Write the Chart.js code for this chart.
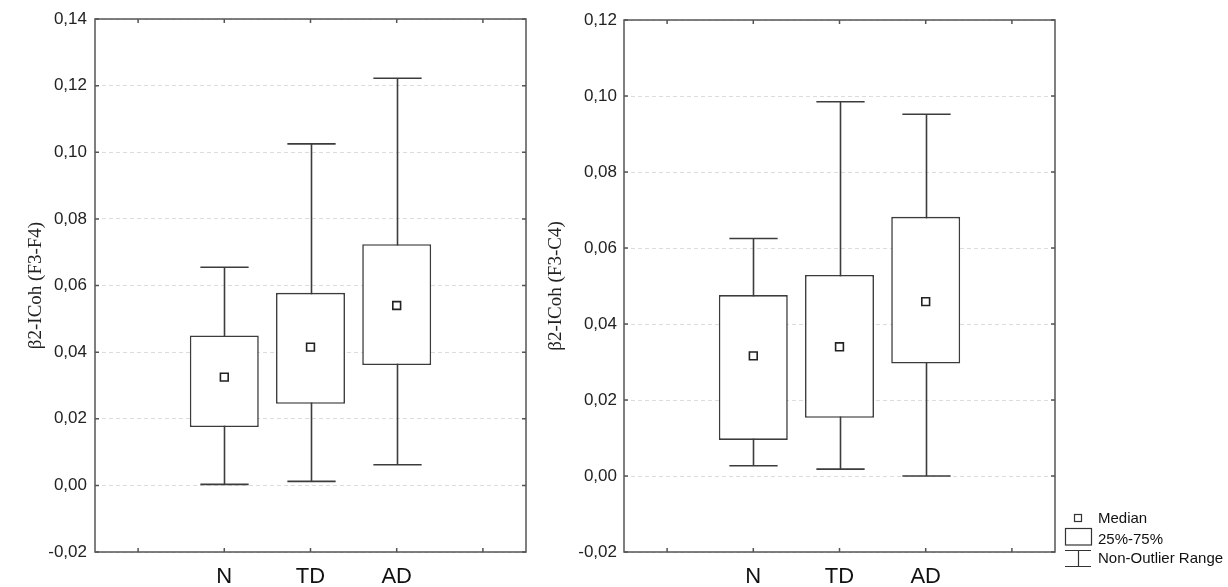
<!DOCTYPE html>
<html>
<head>
<meta charset="utf-8">
<script src="https://cdn.jsdelivr.net/npm/chart.js@4"></script>
<style>
    html, body { margin: 0; padding: 0; background: #fff; }
    #wrap { position: relative; width: 1228px; height: 587px; }
    canvas { position: absolute; top: 0; }
</style>
</head>
<body>
<div id="wrap">
    <canvas id="left" width="540" height="587" style="left:0"></canvas>
    <canvas id="right" width="688" height="587" style="left:540px"></canvas>
</div>
<script>
const groups = ['N', 'TD', 'AD'];

// F3-F4
const leftMin = [0.0003, 0.0012, 0.0062];
const leftQ1 = [0.0175, 0.0245, 0.0361];
const leftMedian = [0.0325, 0.0415, 0.0540];
const leftQ3 = [0.0450, 0.0578, 0.0724];
const leftMax = [0.0655, 0.1025, 0.1222];

// F3-C4
const rightMin = [0.0027, 0.0018, 0.0000];
const rightQ1 = [0.0095, 0.0153, 0.0296];
const rightMedian = [0.0316, 0.0340, 0.0459];
const rightQ3 = [0.0476, 0.0529, 0.0682];
const rightMax = [0.0625, 0.0985, 0.0952];

const legendItems = ['Median', '25%-75%', 'Non-Outlier Range'];

const LINE = '#3c3c3c';
const SANS = "'Liberation Sans', Arial, sans-serif";
const SERIF = "'Liberation Serif', 'Times New Roman', serif";

// пустые категории по краям, как в оригинале
const pad = arr => [null, ...arr, null];

const boxFrame = {
    id: 'boxFrame',
    beforeDatasetsDraw(chart, args, opts) {
        const {ctx, scales: {x, y}} = chart;
        const slot = x.getPixelForValue(1) - x.getPixelForValue(0);
        const hw = slot * 0.28;
        ctx.save();
        ctx.strokeStyle = LINE;
        ctx.lineWidth = 1.6;
        opts.min.forEach((lo, i) => {
            if (lo == null) return;
            const px = Math.round(x.getPixelForValue(i)) + 0.5;
            const yLo = y.getPixelForValue(lo);
            const yHi = y.getPixelForValue(opts.max[i]);
            ctx.beginPath();
            ctx.moveTo(px, yLo); ctx.lineTo(px, yHi);
            ctx.moveTo(px - hw, yLo); ctx.lineTo(px + hw, yLo);
            ctx.moveTo(px - hw, yHi); ctx.lineTo(px + hw, yHi);
            ctx.stroke();
        });
        ctx.restore();
    },
    afterDatasetsDraw(chart) {
        const {ctx, chartArea: a, scales: {x, y}} = chart;
        ctx.save();
        ctx.strokeStyle = '#555';
        ctx.lineWidth = 1.5;
        ctx.strokeRect(a.left, a.top, a.right - a.left, a.bottom - a.top);
        ctx.beginPath();
        y.ticks.forEach((t, i) => {
            const py = y.getPixelForTick(i);
            ctx.moveTo(a.left, py); ctx.lineTo(a.left + 4, py);
            ctx.moveTo(a.right - 4, py); ctx.lineTo(a.right, py);
        });
        x.ticks.forEach((t, i) => {
            const px = x.getPixelForTick(i);
            ctx.moveTo(px, a.top); ctx.lineTo(px, a.top + 4);
            ctx.moveTo(px, a.bottom - 4); ctx.lineTo(px, a.bottom);
        });
        ctx.stroke();
        ctx.restore();
    }
};

const boxLegend = {
    id: 'boxLegend',
    afterDraw(chart, args, opts) {
        if (!opts.show) return;
        const ctx = chart.ctx;
        const x0 = 525, x1 = 551, xc = 538;
        ctx.save();
        ctx.strokeStyle = '#333';
        ctx.lineWidth = 1.2;
        ctx.strokeRect(534.5, 514.5, 7, 7);
        ctx.strokeRect(x0 + 0.5, 528.5, x1 - x0, 16.5);
        ctx.beginPath();
        ctx.moveTo(x0, 550.5); ctx.lineTo(x1, 550.5);
        ctx.moveTo(xc + 0.5, 550.5); ctx.lineTo(xc + 0.5, 566.5);
        ctx.moveTo(x0, 566.5); ctx.lineTo(x1, 566.5);
        ctx.stroke();
        ctx.fillStyle = '#111';
        ctx.font = '15px ' + SANS;
        ctx.textBaseline = 'middle';
        ctx.fillText(legendItems[0], 558, 518.5);
        ctx.fillText(legendItems[1], 558, 539.5);
        ctx.fillText(legendItems[2], 558, 558.5);
        ctx.restore();
    }
};

function createBoxChart(id, cfg) {
    const ctx = document.getElementById(id).getContext('2d');
    const boxes = cfg.q1.map((v, i) => [v, cfg.q3[i]]);
    return new Chart(ctx, {
        data: {
            labels: pad(groups).map(g => g || ''),
            datasets: [{
                type: 'bar',
                data: pad(boxes),
                backgroundColor: '#fff',
                borderColor: LINE,
                borderWidth: 1.6,
                borderSkipped: false,
                barPercentage: 0.8,
                categoryPercentage: 1,
                order: 2
            }, {
                type: 'line',
                data: pad(cfg.median),
                showLine: false,
                pointStyle: 'rect',
                pointRadius: 5.5,
                pointBackgroundColor: '#fff',
                pointBorderColor: '#222',
                pointBorderWidth: 1.6,
                order: 1
            }]
        },
        options: {
            responsive: false,
            animation: false,
            layout: { padding: cfg.padding },
            plugins: {
                legend: { display: false },
                tooltip: { enabled: false },
                boxFrame: { min: pad(cfg.min), max: pad(cfg.max) },
                boxLegend: { show: !!cfg.legend }
            },
            scales: {
                x: {
                    type: 'category',
                    offset: true,
                    grid: { display: false },
                    border: { display: false },
                    ticks: { color: '#111', padding: 4, font: { family: SANS, size: 22 } },
                    afterFit: scale => { scale.height = 35; }
                },
                y: {
                    min: -0.02,
                    max: cfg.max_y,
                    ticks: {
                        stepSize: 0.02,
                        padding: cfg.tickPad,
                        color: '#222',
                        font: { family: SANS, size: 17 },
                        callback: value => (Math.abs(value) < 1e-9 ? 0 : value).toFixed(2).replace('.', ',')
                    },
                    grid: { color: '#dcdcdc', lineWidth: 1, drawTicks: false },
                    border: { display: false, dash: [4, 3] },
                    title: {
                        display: true,
                        text: cfg.title,
                        color: '#222',
                        padding: { top: cfg.titlePad, bottom: 0 },
                        font: { family: SERIF, size: 19 }
                    },
                    afterFit: scale => { scale.width = cfg.axisWidth; }
                }
            }
        },
        plugins: [boxFrame, boxLegend]
    });
}

createBoxChart('left', {
    title: 'β2-ICoh (F3-F4)',
    min: leftMin, q1: leftQ1, median: leftMedian, q3: leftQ3, max: leftMax,
    max_y: 0.14,
    axisWidth: 95, tickPad: 8, titlePad: 25,
    padding: { top: 19, right: 14, left: 0, bottom: 0 }
});

createBoxChart('right', {
    title: 'β2-ICoh (F3-C4)',
    min: rightMin, q1: rightQ1, median: rightMedian, q3: rightQ3, max: rightMax,
    max_y: 0.12,
    axisWidth: 84, tickPad: 7, titlePad: 5,
    padding: { top: 20, right: 173, left: 0, bottom: 0 },
    legend: true
});
</script>
</body>
</html>
